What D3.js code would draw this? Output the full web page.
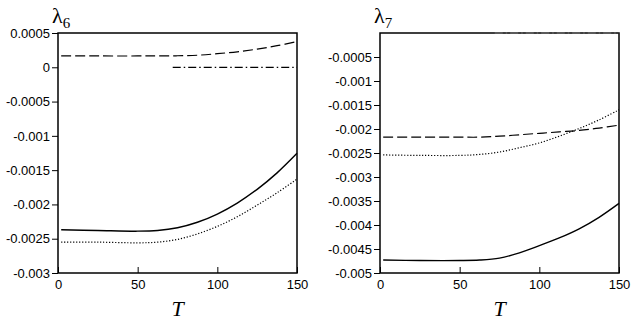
<!DOCTYPE html>
<html>
<head>
<meta charset="utf-8">
<script src="https://cdn.jsdelivr.net/npm/d3@7"></script>
<style>
 body{margin:0;background:#fff;}
</style>
</head>
<body>
<svg id="vis" width="632" height="328"></svg>
<script>
// T samples shared by all curves
var T = [2, 25, 50, 62.5, 75, 87.5, 100, 112.5, 125, 137.5, 150];
var Tzero = [72, 150];

// lambda6 panel
var l6_dash  = [0.000165, 0.000165, 0.000165, 0.000166, 0.000168, 0.000176, 0.000198, 0.000226, 0.000265, 0.000315, 0.000375];
var l6_dd    = [0, 0];
var l6_solid = [-0.00237, -0.00238, -0.00239, -0.00238, -0.00234, -0.00226, -0.00214, -0.00198, -0.00178, -0.00154, -0.001255];
var l6_dot   = [-0.00255, -0.00255, -0.00256, -0.00255, -0.00251, -0.00243, -0.00232, -0.00218, -0.00201, -0.00183, -0.00163];
var l6_ticks = [0.0005, 0, -0.0005, -0.001, -0.0015, -0.002, -0.0025, -0.003];

// lambda7 panel
var l7_dash  = [-0.00217, -0.00217, -0.00217, -0.00217, -0.00215, -0.00212, -0.00209, -0.00206, -0.00203, -0.00198, -0.00192];
var l7_dd    = [0, 0];
var l7_solid = [-0.00473, -0.00474, -0.00474, -0.00473, -0.00469, -0.00458, -0.00443, -0.00427, -0.00408, -0.00384, -0.00355];
var l7_dot   = [-0.00254, -0.00255, -0.00255, -0.00253, -0.00248, -0.00239, -0.00229, -0.00215, -0.00199, -0.00181, -0.00160];
var l7_ticks = [-0.0005, -0.001, -0.0015, -0.002, -0.0025, -0.003, -0.0035, -0.004, -0.0045, -0.005];

var xticks = [0, 50, 100, 150];
var sans = "'Liberation Sans',Arial,sans-serif", serif = "'Liberation Serif','Times New Roman',serif";
var svg = d3.select("#vis");

function panel(x0, x1, ydom, yticks, sub, curves, over){
  var top = 33, bottom = 273;
  var x = d3.scaleLinear().domain([0,150]).range([x0,x1]);
  var y = d3.scaleLinear().domain(ydom).range([bottom,top]);
  var g = svg.append("g");
  var line = d3.line().x(function(d){return x(d[0]);}).y(function(d){return y(d[1]);}).curve(d3.curveCatmullRom);

  function draw(c){
    g.append("path")
      .attr("d", line(c.t.map(function(t,i){return [t,c.v[i]];})))
      .attr("fill","none")
      .attr("stroke", c.col || "#000")
      .attr("stroke-width", c.w || 1.2)
      .attr("stroke-dasharray", c.dash || null);
  }
  curves.forEach(draw);

  // frame
  g.append("rect").attr("x",x0).attr("y",top).attr("width",x1-x0).attr("height",bottom-top)
    .attr("fill","none").attr("stroke","#000").attr("stroke-width",1.5);
  (over||[]).forEach(draw);

  var ya = d3.axisLeft(y).tickValues(yticks).tickSize(6).tickPadding(2)
    .tickFormat(function(d){ return d===0 ? "0" : String(+d.toPrecision(3)); });
  g.append("g").attr("transform","translate("+x0+",0)").call(ya)
    .call(function(s){ s.select(".domain").remove();
      s.selectAll("text").attr("font-size",13).attr("fill","#000").style("font-family",sans);
      s.selectAll("line").attr("stroke","#000");});

  var xa = d3.axisBottom(x).tickValues(xticks).tickSize(6).tickPadding(3);
  g.append("g").attr("transform","translate(0,"+bottom+")").call(xa)
    .call(function(s){ s.select(".domain").remove();
      s.selectAll("text").attr("font-size",13).attr("fill","#000").style("font-family",sans).attr("dy","0.5em");
      s.selectAll("line").attr("stroke","#000").attr("transform","translate(0,-6)");});

  g.append("text").attr("x",(x0+x1)/2).attr("y",316).attr("text-anchor","middle")
    .style("font-family",serif).style("font-style","italic")
    .attr("font-size",22).text("T");

  var lab = g.append("text").attr("x",x0-6).attr("y",23)
    .style("font-family",serif).attr("font-size",22);
  lab.append("tspan").text("λ");
  lab.append("tspan").attr("font-size",15).attr("dy",5).text(sub);
}

panel(58, 297, [-0.003, 0.0005], l6_ticks, "6", [
  {t:T, v:l6_dash, dash:"10,4"},
  {t:Tzero, v:l6_dd, dash:"8,3,1.5,3"},
  {t:T, v:l6_solid, w:1.4},
  {t:T, v:l6_dot, dash:"1.2,1.8"}
]);

// the zero line of the right panel sits on the top border
panel(380, 619, [-0.005, 0], l7_ticks, "7", [
  {t:T, v:l7_dash, dash:"10,4"},
  {t:T, v:l7_solid, w:1.4},
  {t:T, v:l7_dot, dash:"1.2,1.8"}
], [
  {t:Tzero, v:l7_dd, dash:"8,3,1.5,3", col:"#666", w:1.5}
]);
</script>
</body>
</html>
